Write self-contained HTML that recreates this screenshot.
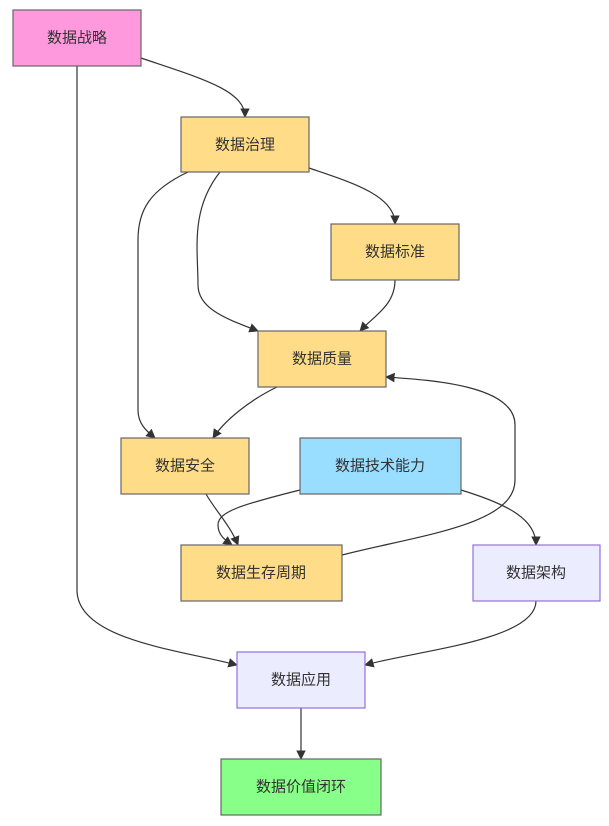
<!DOCTYPE html>
<html><head><meta charset="utf-8"><style>
body{margin:0;background:#fff;width:609px;height:821px;overflow:hidden}
text{font-family:"Liberation Sans","Noto Sans CJK SC",sans-serif;font-size:15px;fill:#333;text-anchor:middle;dominant-baseline:central}
</style></head><body>
<svg width="609" height="821" viewBox="0 0 609 821">
<defs><marker id="a" viewBox="0 0 10 10" refX="9" refY="5" markerWidth="8" markerHeight="8" orient="auto"><path d="M0,0L10,5L0,10z" fill="#333"/></marker></defs>
<g fill="none" stroke="#333" stroke-width="1.2" marker-end="url(#a)">
<path d="M141,58 C200,78 245,90 245,117"/>
<path d="M77,66 L77,590 C77,640 180,650 237,665"/>
<path d="M309,168 C350,182 395,195 395,224"/>
<path d="M220,172 C190,210 198,250 198,285 C198,310 230,320 258,331"/>
<path d="M188,172 C150,190 138,210 138,240 L138,410 C138,425 148,432 155,438"/>
<path d="M395,280 C395,305 375,315 360,331"/>
<path d="M277,387 C250,400 225,420 213,438"/>
<path d="M206,494 C215,510 230,525 238,545"/>
<path d="M300,490 C240,505 218,512 218,525 C218,535 225,540 232,545"/>
<path d="M461,490 C510,505 536,520 536,545"/>
<path d="M342,555 C420,535 515,525 515,480 L515,425 C515,385 430,380 386,377"/>
<path d="M536,601 C536,640 420,650 365,665"/>
<path d="M301,708 L301,759"/>
</g>
<g stroke-width="1.2">
<rect x="13" y="10" width="128" height="56" fill="#ff99dd" stroke="#666"/>
<rect x="181" y="117" width="128" height="55" fill="#ffdd88" stroke="#666"/>
<rect x="331" y="224" width="128" height="56" fill="#ffdd88" stroke="#666"/>
<rect x="258" y="331" width="128" height="56" fill="#ffdd88" stroke="#666"/>
<rect x="121" y="438" width="128" height="56" fill="#ffdd88" stroke="#666"/>
<rect x="300" y="438" width="161" height="56" fill="#99ddff" stroke="#666"/>
<rect x="181" y="545" width="161" height="56" fill="#ffdd88" stroke="#666"/>
<rect x="473" y="545" width="127" height="56" fill="#ececff" stroke="#9370db"/>
<rect x="237" y="652" width="128" height="56" fill="#ececff" stroke="#9370db"/>
<rect x="221" y="759" width="160" height="56" fill="#88ff88" stroke="#666"/>
</g>
<text x="77" y="38">数据战略</text>
<text x="245" y="145">数据治理</text>
<text x="395" y="252">数据标准</text>
<text x="322" y="359">数据质量</text>
<text x="185" y="466">数据安全</text>
<text x="380" y="466">数据技术能力</text>
<text x="261" y="573">数据生存周期</text>
<text x="536" y="573">数据架构</text>
<text x="301" y="680">数据应用</text>
<text x="301" y="787">数据价值闭环</text>
</svg>
</body></html>
